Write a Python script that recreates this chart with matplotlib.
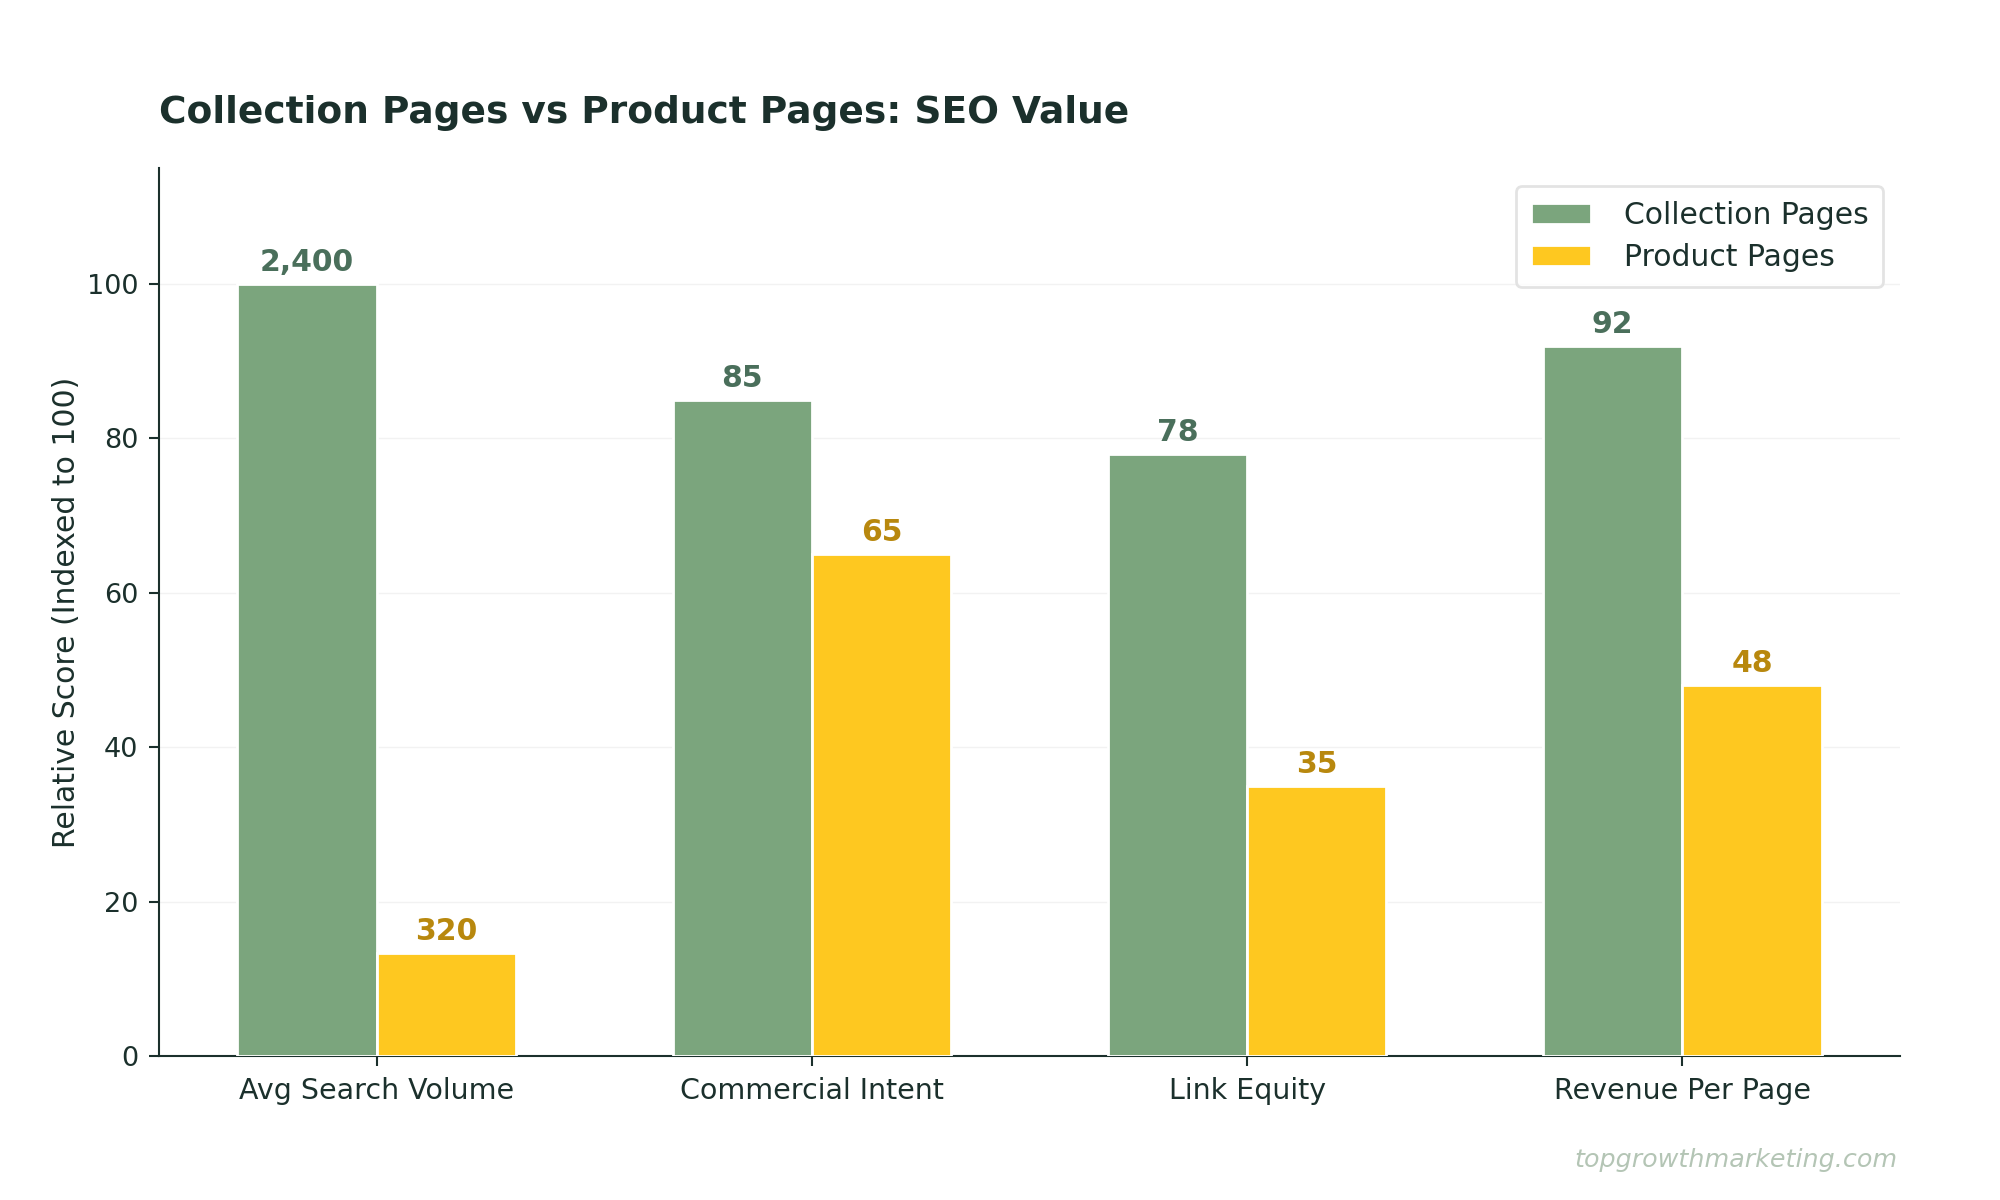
import numpy as np
import matplotlib.pyplot as plt

categories = ["Avg Search Volume", "Commercial Intent", "Link Equity", "Revenue Per Page"]
collection_scores = [100, 85, 78, 92]
product_scores = [13.3, 65, 35, 48]
collection_labels = ["2,400", "85", "78", "92"]
product_labels = ["320", "65", "35", "48"]

green = "#7ba57d"
yellow = "#fec820"
dark = "#1b302c"

plt.rcParams['font.family'] = ['DejaVu Sans']

fig = plt.figure(figsize=(20, 12), dpi=100)
ax = fig.add_axes([0.0795, 0.12, 0.8705, 0.74])

x = np.arange(len(categories))
w = 0.32
b1 = ax.bar(x - w / 2, collection_scores, w, color=green, edgecolor="white", linewidth=2, label="Collection Pages", zorder=3)
b2 = ax.bar(x + w / 2, product_scores, w, color=yellow, edgecolor="white", linewidth=2, label="Product Pages", zorder=3)

for bar, lab in zip(b1, collection_labels):
    ax.annotate(lab, (bar.get_x() + bar.get_width() / 2, bar.get_height()), xytext=(0, 5),
                textcoords="offset points", ha="center", va="bottom", fontsize=21.5,
                fontweight="bold", color="#4a6f5b")
for bar, lab in zip(b2, product_labels):
    ax.annotate(lab, (bar.get_x() + bar.get_width() / 2, bar.get_height()), xytext=(0, 5),
                textcoords="offset points", ha="center", va="bottom", fontsize=21.5,
                fontweight="bold", color="#b8880e")

ax.set_xlim(-0.5, 3.5)
ax.set_ylim(0, 115)
ax.set_yticks([0, 20, 40, 60, 80, 100])
ax.set_xticks(x)
ax.set_xticklabels(categories)
ax.tick_params(axis="both", labelsize=20.5, colors=dark, length=7, width=1.5, pad=8)
ax.tick_params(axis="y", labelsize=19.5)
ax.yaxis.grid(True, color="#f2f2f2", linewidth=1, zorder=0)
ax.set_axisbelow(True)
for s in ["top", "right"]:
    ax.spines[s].set_visible(False)
for s in ["left", "bottom"]:
    ax.spines[s].set_color(dark)
    ax.spines[s].set_linewidth(1.5)

ax.set_ylabel("Relative Score (Indexed to 100)", fontsize=21.5, color=dark, labelpad=4)

leg = ax.legend(loc="upper right", fontsize=21.5, frameon=True, fancybox=True,
                handlelength=2.0, handleheight=0.7, handletextpad=1.1,
                borderpad=0.5, labelspacing=0.45, bbox_to_anchor=(0.999, 0.997))
leg.get_frame().set_edgecolor("#dddddd")
leg.get_frame().set_linewidth(2)
for t in leg.get_texts():
    t.set_color(dark)

fig.text(0.0797, 0.906, "Collection Pages vs Product Pages: SEO Value", fontsize=27,
         fontweight="bold", color=dark, ha="left", va="center")
fig.text(0.949, 0.033, "topgrowthmarketing.com", fontsize=18.3, style="italic",
         color="#b4c5b5", ha="right", va="center")

fig.savefig("out.png", dpi=100, facecolor="white")
